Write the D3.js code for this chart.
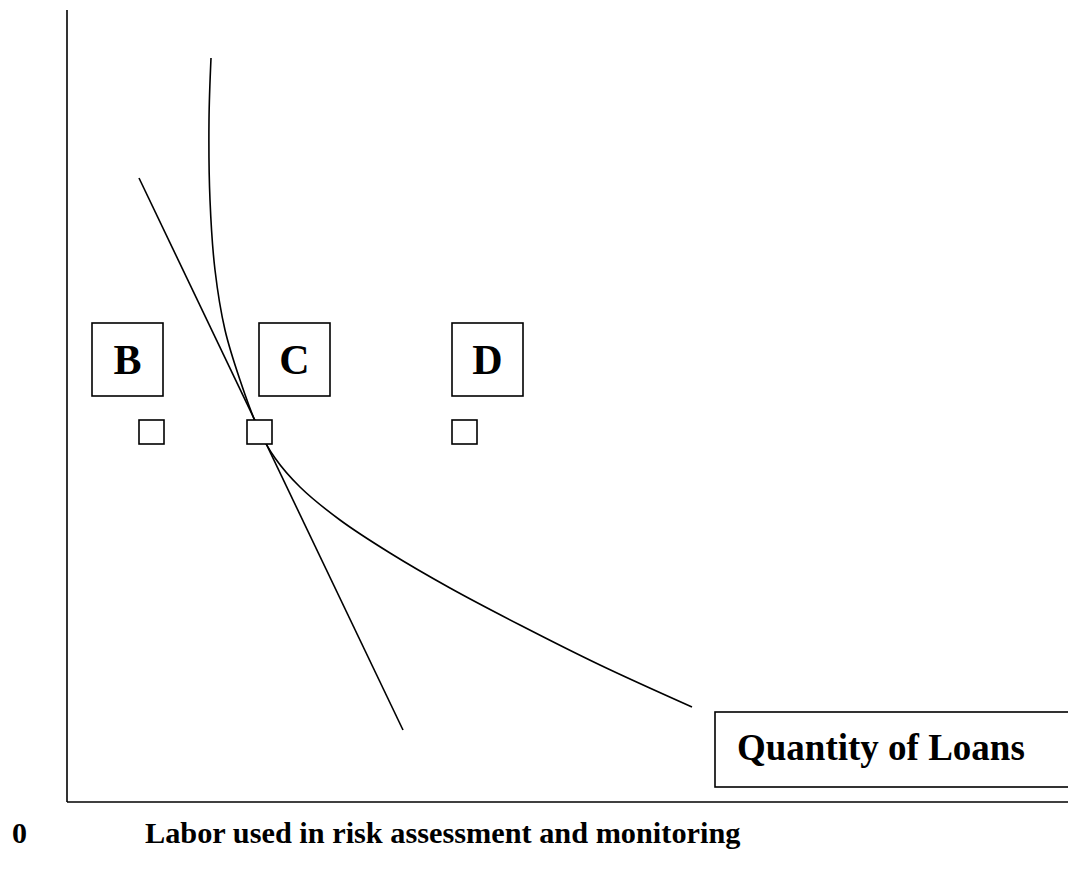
<!DOCTYPE html>
<html>
<head>
<meta charset="utf-8">
<script src="https://d3js.org/d3.v7.min.js"></script>
<style>
  body { margin: 0; background: #fff; }
  svg { display: block; }
</style>
</head>
<body>
<script>
// isoquant (quantity of loans) and isocost line, data units: 0..1000 across, 0..790 up
var isoquant = [[144,744],[142,682],[143,602],[148,532],[158,472],[173,422],[191,374],
                [208,344],[233,315],[273,282],[323,249],[383,214],[453,177],[533,137],[625,95]];
var isocost = [[72,624],[336,72]];
var letters = ["B", "C", "D"];
var letterX = [25, 192, 385];
var markerX = [72, 180, 385];
var axisLabel = "Labor used in risk assessment and monitoring";
var originLabel = "0";
var curveLabel = "Quantity of Loans";

var width = 1068, height = 873;

var x = d3.scaleLinear().domain([0, 1000]).range([67, 1067]);
var y = d3.scaleLinear().domain([0, 790]).range([802, 12]);

var canvas = d3.select("body")
    .append("svg")
    .attr("width", width)
    .attr("height", height)
    .style("font-family", "'Liberation Serif', 'Times New Roman', serif")
    .style("font-weight", "bold");

// axes as plain lines
canvas.append("line")
    .attr("x1", x(0)).attr("y1", y(0))
    .attr("x2", x(0)).attr("y2", y(792))
    .attr("stroke", "#000").attr("stroke-width", 1.6);
canvas.append("line")
    .attr("x1", x(0)).attr("y1", y(0))
    .attr("x2", x(1001)).attr("y2", y(0))
    .attr("stroke", "#000").attr("stroke-width", 1.6);

var line = d3.line()
    .x(function(d) { return x(d[0]); })
    .y(function(d) { return y(d[1]); });

canvas.append("path")
    .datum(isoquant)
    .attr("d", line.curve(d3.curveCatmullRom.alpha(0.5)))
    .attr("fill", "none").attr("stroke", "#000").attr("stroke-width", 1.6);

canvas.append("path")
    .datum(isocost)
    .attr("d", d3.line().x(function(d) { return x(d[0]); }).y(function(d) { return y(d[1]); }))
    .attr("fill", "none").attr("stroke", "#000").attr("stroke-width", 1.6);

// letter boxes
var boxes = canvas.selectAll("g.letter")
    .data(letters)
    .enter()
    .append("g")
    .attr("class", "letter")
    .attr("transform", function(d, i) { return "translate(" + x(letterX[i]) + "," + y(479) + ")"; });
boxes.append("rect")
    .attr("width", 71).attr("height", 73)
    .attr("fill", "#fff").attr("stroke", "#000").attr("stroke-width", 1.6);
boxes.append("text")
    .attr("x", 35.5).attr("y", 51)
    .attr("text-anchor", "middle")
    .style("font-size", "42px")
    .text(function(d) { return d; });

// small squares
canvas.selectAll("rect.marker")
    .data(markerX)
    .enter()
    .append("rect")
    .attr("class", "marker")
    .attr("x", function(d) { return x(d); })
    .attr("y", y(382))
    .attr("width", 25).attr("height", 24)
    .attr("fill", "#fff").attr("stroke", "#000").attr("stroke-width", 1.6);

// curve label box
canvas.append("rect")
    .attr("x", x(648)).attr("y", y(90))
    .attr("width", 360).attr("height", 75)
    .attr("fill", "#fff").attr("stroke", "#000").attr("stroke-width", 1.6);
canvas.append("text")
    .attr("x", x(670)).attr("y", y(90) + 48)
    .style("font-size", "37px")
    .text(curveLabel);

canvas.append("text")
    .attr("x", 12).attr("y", 843)
    .style("font-size", "30px")
    .text(originLabel);
canvas.append("text")
    .attr("x", 145).attr("y", 843)
    .style("font-size", "30.3px")
    .text(axisLabel);
</script>
</body>
</html>
